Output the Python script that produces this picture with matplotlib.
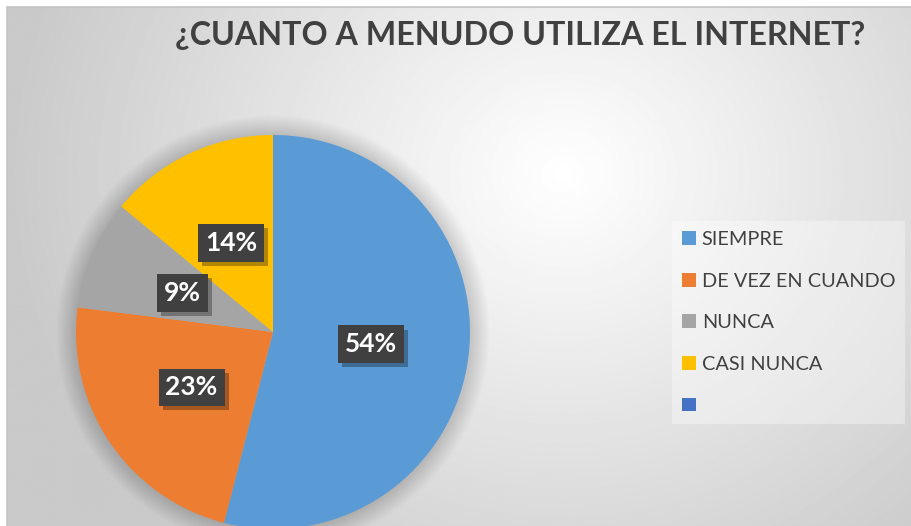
import numpy as np
import matplotlib.pyplot as plt
from matplotlib.patches import Patch, Rectangle, Circle
import matplotlib.patheffects as pe

# datos
categorias = ['SIEMPRE', 'DE VEZ EN CUANDO', 'NUNCA', 'CASI NUNCA', '']
valores = [54, 23, 9, 14]
colores = ['#5B9BD5', '#ED7D31', '#A5A5A5', '#FFC000', '#4472C4']
titulo = '¿CUANTO A MENUDO UTILIZA EL INTERNET?'

W, H = 912, 526
plt.rcParams['font.family'] = ['Lato', 'DejaVu Sans']

fig = plt.figure(figsize=(W / 100, H / 100), dpi=100)
fig.patch.set_facecolor('white')
ax = fig.add_axes([0, 0, 1, 1])

# fondo con degradado radial
yy, xx = np.mgrid[0:H, 0:W]
d = np.hypot(xx - 560, (yy - (H - 170)) / 0.9)
g = 1 - 0.21 * np.clip(d / 560, 0, 1)
ax.imshow(g, cmap='gray', vmin=0, vmax=1, origin='lower',
          extent=[7, W, 0, H - 7], zorder=0, interpolation='bilinear')
ax.add_patch(Rectangle((7, -5), W, H - 7 + 5, fill=False,
                       edgecolor='#c4c4c4', lw=1.2, zorder=1))

cx, cy, r = 273, 194, 197

# sombra suave alrededor del pastel
for k in range(14):
    ax.add_patch(Circle((cx, cy), r + 1.5 * k, facecolor='black',
                        edgecolor='none', alpha=0.012, zorder=2))

wedges, texts, autotexts = ax.pie(
    valores, colors=colores[:4], startangle=90, counterclock=False,
    center=(cx, cy), radius=r, autopct='%1.0f%%', pctdistance=0.5,
    wedgeprops=dict(linewidth=0, zorder=3),
    textprops=dict(color='white', fontsize=19, fontweight='bold'))

for t in autotexts:
    t.set_zorder(5)
    t.set_bbox(dict(boxstyle='square,pad=0.26', facecolor='#404040',
                    edgecolor='none'))
    t.get_bbox_patch().set_path_effects([
        pe.SimplePatchShadow(offset=(3, -3), shadow_rgbFace='black', alpha=0.3),
        pe.Normal()])

ax.set_xlim(0, W)
ax.set_ylim(0, H)
ax.set_aspect('auto')
ax.axis('off')

ax.text(520, H - 36, titulo, ha='center', va='center', fontsize=23.2,
        fontweight='bold', color='#404040', zorder=6)

handles = [Patch(facecolor=c, edgecolor='none') for c in colores]
etiquetas = [c if c else ' ' for c in categorias]
leg = ax.legend(handles, etiquetas, loc='upper left',
                bbox_to_anchor=(672 / W, 1 - 221 / H), borderaxespad=0,
                frameon=True, fancybox=False, facecolor='white', framealpha=0.35,
                edgecolor='none', fontsize=14.3, handlelength=0.7,
                handleheight=0.7, handletextpad=0.3, labelspacing=1.24,
                borderpad=0.5)
for t in leg.get_texts():
    t.set_color('#404040')
leg.set_zorder(6)

fig.savefig('out.png', dpi=100)
